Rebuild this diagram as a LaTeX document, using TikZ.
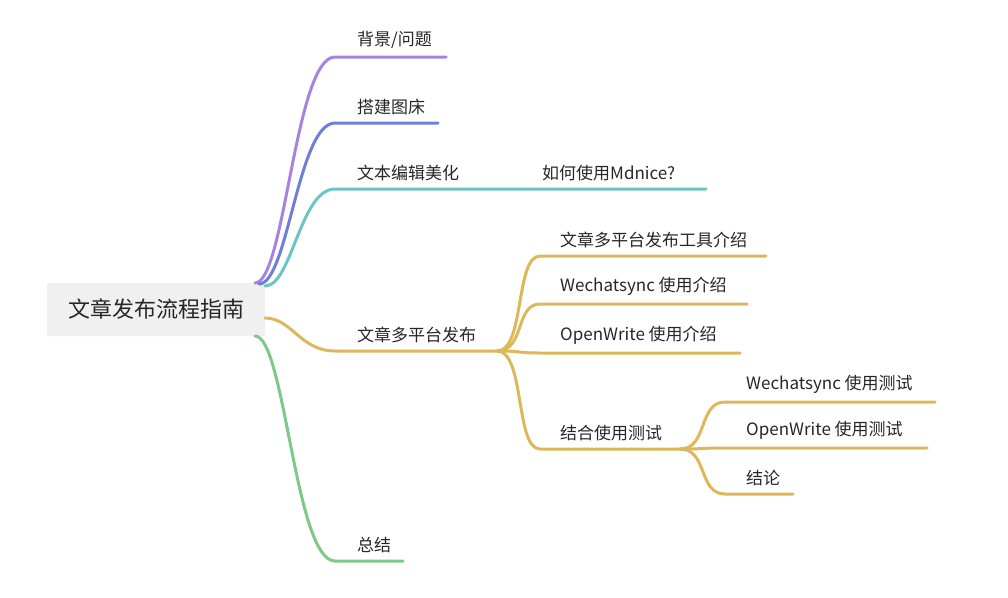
\documentclass[tikz,border=0pt]{standalone}
\usepackage{fontspec}
\setmainfont{Noto Sans CJK SC}
\begin{document}
\begin{tikzpicture}[x=1pt,y=-1pt,
  lbl/.style={anchor=south west,inner sep=0pt,font=\fontsize{17}{19}\selectfont,text=black!85},
  br/.style={line width=3pt,line cap=round}]
\definecolor{cP}{HTML}{A883DC}\definecolor{cB}{HTML}{6F7FD8}
\definecolor{cT}{HTML}{6CC5C4}\definecolor{cG}{HTML}{DDB85A}\definecolor{cN}{HTML}{7DC98A}
\useasboundingbox (0,0) rectangle (1008,597);
% root
\node[fill=black!6,rounded corners=2pt,minimum width=218pt,minimum height=53pt,inner sep=0pt,
  font=\fontsize{22}{25}\selectfont,text=black!85] (root) at (156,309.5) {文章发布流程指南};
% level-1 coordinates
\coordinate (s1) at (255,283); \coordinate (s2) at (259,284); \coordinate (s3) at (265,286);
\coordinate (s4) at (265,318); \coordinate (s5) at (255,336);
\foreach \n/\y/\e/\c/\t in {a/57/446/cP/{背景/问题}, b/123/438/cB/搭建图床, c/189/706/cT/文本编辑美化, d/351/497/cG/文章多平台发布, e/561/403/cN/总结}{
  \coordinate (\n0) at (335,\y); \coordinate (\n1) at (\e,\y);
  \node[lbl] (l\n) at (357,\y-8) {\t};
}
\draw[br,cP] (s1) .. controls (285,283) and (295,57) .. (a0) -- (a1);
\draw[br,cB] (s2) .. controls (288,284) and (298,123) .. (b0) -- (b1);
\draw[br,cT] (s3) .. controls (292,286) and (300,189) .. (c0) -- (c1);
\draw[br,cG] (s4) .. controls (292,318) and (300,351) .. (d0) -- (d1);
\draw[br,cN] (s5) .. controls (285,336) and (295,561) .. (e0) -- (e1);
\node[lbl] (lc2) at (542,181) {如何使用Mdnice?};
% level 2
\foreach \n/\y/\e/\t in {f/256/766/文章多平台发布工具介绍, g/304/747/Wechatsync 使用介绍, h/353/740/OpenWrite 使用介绍, i/449/680/结合使用测试}{
  \coordinate (\n0) at (540,\y); \coordinate (\n1) at (\e,\y);
  \node[lbl] (l\n) at (560,\y-8) {\t};
  \draw[br,cG] (d1) .. controls (525,351) and (515,\y) .. (\n0) -- (\n1);
}
% level 3
\foreach \n/\y/\e/\t in {j/402/935/Wechatsync 使用测试, k/448/927/OpenWrite 使用测试, m/494/793/结论}{
  \coordinate (\n0) at (725,\y); \coordinate (\n1) at (\e,\y);
  \node[lbl] (l\n) at (746,\y-8) {\t};
  \draw[br,cG] (i1) .. controls (708,449) and (698,\y) .. (\n0) -- (\n1);
}
\end{tikzpicture}
\end{document}
